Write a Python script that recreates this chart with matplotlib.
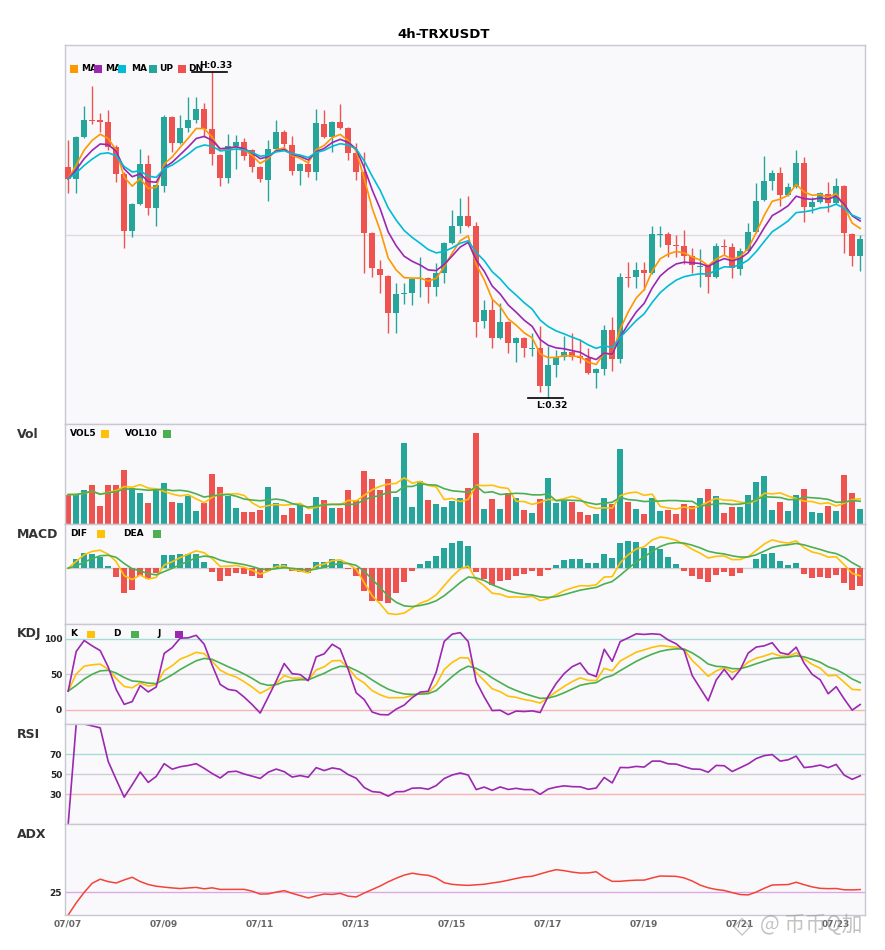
import numpy as np
import pandas as pd
import matplotlib
matplotlib.use('Agg')
import matplotlib.pyplot as plt
from matplotlib.patches import Rectangle

plt.rcParams['font.family'] = 'DejaVu Sans'

################################ data ##########################################

title = '4h-TRXUSDT'
date_labels = ['07/07', '07/09', '07/11', '07/13', '07/15', '07/17', '07/19', '07/21', '07/23']
label_step = 12  # 4h candles -> one label every two days

opens = [0.32704, 0.32668, 0.32794, 0.32845, 0.32845, 0.32839, 0.32764, 0.32683, 0.32512, 0.32593,
         0.32713, 0.32581, 0.32647, 0.32854, 0.32776, 0.32821, 0.32845, 0.32878, 0.32818, 0.32740,
         0.32671, 0.32767, 0.32779, 0.32755, 0.32704, 0.32665, 0.32758, 0.32809, 0.32770, 0.32692,
         0.32713, 0.32689, 0.32833, 0.32794, 0.32839, 0.32821, 0.32746, 0.32689, 0.32506, 0.32398,
         0.32377, 0.32266, 0.32323, 0.32326, 0.32368, 0.32371, 0.32344, 0.32386, 0.32476, 0.32527,
         0.32557, 0.32527, 0.32242, 0.32275, 0.32191, 0.32239, 0.32176, 0.32191, 0.32158, 0.32161,
         0.32047, 0.32110, 0.32134, 0.32149, 0.32137, 0.32131, 0.32086, 0.32098, 0.32215, 0.32128,
         0.32374, 0.32374, 0.32395, 0.32386, 0.32500, 0.32503, 0.32470, 0.32467, 0.32437, 0.32404,
         0.32407, 0.32374, 0.32467, 0.32464, 0.32398, 0.32452, 0.32509, 0.32605, 0.32662, 0.32686,
         0.32620, 0.32644, 0.32716, 0.32584, 0.32599, 0.32623, 0.32596, 0.32647, 0.32503, 0.32437]

highs = [0.32785, 0.32797, 0.32887, 0.32947, 0.32866, 0.32875, 0.32770, 0.32689, 0.32596, 0.32758,
         0.32740, 0.32653, 0.32860, 0.32857, 0.32860, 0.32914, 0.32914, 0.32896, 0.32989, 0.32743,
         0.32803, 0.32800, 0.32791, 0.32758, 0.32707, 0.32785, 0.32845, 0.32815, 0.32797, 0.32716,
         0.32725, 0.32878, 0.32875, 0.32842, 0.32893, 0.32824, 0.32776, 0.32749, 0.32509, 0.32425,
         0.32380, 0.32356, 0.32356, 0.32371, 0.32434, 0.32374, 0.32416, 0.32479, 0.32575, 0.32611,
         0.32617, 0.32539, 0.32305, 0.32308, 0.32296, 0.32242, 0.32194, 0.32194, 0.32206, 0.32227,
         0.32167, 0.32155, 0.32197, 0.32206, 0.32188, 0.32161, 0.32101, 0.32230, 0.32254, 0.32386,
         0.32419, 0.32419, 0.32419, 0.32527, 0.32527, 0.32509, 0.32500, 0.32515, 0.32461, 0.32458,
         0.32410, 0.32476, 0.32488, 0.32476, 0.32461, 0.32536, 0.32656, 0.32737, 0.32695, 0.32704,
         0.32656, 0.32755, 0.32734, 0.32614, 0.32629, 0.32659, 0.32671, 0.32650, 0.32506, 0.32500]

lows = [0.32626, 0.32626, 0.32791, 0.32833, 0.32809, 0.32755, 0.32659, 0.32461, 0.32494, 0.32590,
        0.32560, 0.32527, 0.32629, 0.32749, 0.32773, 0.32809, 0.32836, 0.32794, 0.32710, 0.32647,
        0.32656, 0.32698, 0.32725, 0.32689, 0.32659, 0.32602, 0.32755, 0.32764, 0.32680, 0.32650,
        0.32674, 0.32665, 0.32791, 0.32749, 0.32818, 0.32725, 0.32665, 0.32386, 0.32374, 0.32326,
        0.32206, 0.32206, 0.32293, 0.32290, 0.32314, 0.32296, 0.32317, 0.32356, 0.32473, 0.32506,
        0.32524, 0.32194, 0.32221, 0.32161, 0.32188, 0.32146, 0.32119, 0.32134, 0.32137, 0.32029,
        0.32011, 0.32074, 0.32125, 0.32125, 0.32116, 0.32083, 0.32041, 0.32080, 0.32092, 0.32116,
        0.32344, 0.32341, 0.32335, 0.32383, 0.32464, 0.32434, 0.32434, 0.32413, 0.32386, 0.32344,
        0.32326, 0.32371, 0.32440, 0.32371, 0.32380, 0.32449, 0.32506, 0.32602, 0.32635, 0.32587,
        0.32617, 0.32641, 0.32539, 0.32566, 0.32596, 0.32569, 0.32593, 0.32446, 0.32407, 0.32392]

closes = [0.32668, 0.32794, 0.32845, 0.32842, 0.32839, 0.32764, 0.32683, 0.32512, 0.32593, 0.32713,
          0.32581, 0.32650, 0.32854, 0.32776, 0.32821, 0.32845, 0.32878, 0.32818, 0.32743, 0.32671,
          0.32767, 0.32779, 0.32737, 0.32704, 0.32668, 0.32758, 0.32809, 0.32773, 0.32692, 0.32713,
          0.32689, 0.32836, 0.32794, 0.32839, 0.32821, 0.32746, 0.32689, 0.32506, 0.32401, 0.32380,
          0.32266, 0.32323, 0.32326, 0.32368, 0.32371, 0.32344, 0.32386, 0.32476, 0.32527, 0.32557,
          0.32527, 0.32239, 0.32275, 0.32191, 0.32239, 0.32176, 0.32191, 0.32161, 0.32161, 0.32047,
          0.32110, 0.32134, 0.32149, 0.32134, 0.32131, 0.32086, 0.32098, 0.32215, 0.32128, 0.32374,
          0.32371, 0.32395, 0.32386, 0.32503, 0.32503, 0.32470, 0.32467, 0.32437, 0.32410, 0.32407,
          0.32374, 0.32467, 0.32464, 0.32401, 0.32452, 0.32509, 0.32602, 0.32662, 0.32686, 0.32620,
          0.32644, 0.32716, 0.32584, 0.32599, 0.32626, 0.32596, 0.32647, 0.32506, 0.32437, 0.32488]

# volume in millions
volumes = [29.3, 29.3, 33.3, 38.3, 17.7, 38.3, 38.3, 53.3, 35.3, 30.3,
           21.3, 34.3, 40.3, 22.3, 21.3, 27.7, 13.3, 21.3, 49.3, 36.3,
           27.7, 16.3, 12.3, 12.3, 14.3, 36.3, 21.3, 9.3, 16.3, 19.3,
           10.3, 27.3, 24.3, 16.3, 16.3, 33.3, 24.3, 52.3, 44.3, 33.3,
           44.3, 27.3, 80.3, 17.3, 42.3, 24.3, 20.3, 17.3, 23.3, 26.3,
           35.3, 90.3, 15.3, 25.3, 15.3, 30.3, 26.3, 14.3, 11.3, 25.3,
           45.3, 21.3, 23.3, 22.3, 12.3, 9.3, 10.3, 26.3, 20.3, 74.3,
           22.3, 15.3, 10.3, 26.3, 13.3, 14.3, 10.3, 20.3, 18.3, 26.3,
           34.3, 28.3, 11.3, 17.3, 17.3, 29.3, 41.3, 47.3, 14.3, 22.3,
           13.3, 29.3, 34.3, 12.3, 11.3, 18.3, 13.3, 48.3, 30.3, 15.3]

################################ indicators ##########################################

df = pd.DataFrame({'open': opens, 'high': highs, 'low': lows, 'close': closes, 'vol': volumes})
n = len(df)
x = np.arange(n)
c = df['close']

# price lines (EMA 5 / 8 / 13)
ma_fast = c.ewm(span=5, adjust=False).mean()
ma_mid = c.ewm(span=8, adjust=False).mean()
ma_slow = c.ewm(span=13, adjust=False).mean()

vol5 = df['vol'].rolling(5, min_periods=1).mean()
vol10 = df['vol'].rolling(10, min_periods=1).mean()

# fast MACD (6, 13, 5)
dif = c.ewm(span=6, adjust=False).mean() - c.ewm(span=13, adjust=False).mean()
dea = dif.ewm(span=5, adjust=False).mean()
macd_hist = 2 * (dif - dea)

llv = df['low'].rolling(9, min_periods=1).min()
hhv = df['high'].rolling(9, min_periods=1).max()
rsv = ((c - llv) / (hhv - llv) * 100).fillna(50).values
k_line = np.zeros(n)
d_line = np.zeros(n)
k_line[0] = d_line[0] = rsv[0]
for i in range(1, n):
    k_line[i] = 2 / 3 * k_line[i - 1] + rsv[i] / 3
    d_line[i] = 2 / 3 * d_line[i - 1] + k_line[i] / 3
j_line = 3 * k_line - 2 * d_line

delta = c.diff().fillna(0)
gain = delta.clip(lower=0).ewm(alpha=1 / 14, adjust=False).mean()
move = delta.abs().ewm(alpha=1 / 14, adjust=False).mean()
rsi = (gain / move * 100).fillna(0)

prev_c = c.shift(1)
tr = pd.concat([df['high'] - df['low'], (df['high'] - prev_c).abs(), (df['low'] - prev_c).abs()], axis=1).max(axis=1)
up_move = (df['high'] - df['high'].shift(1)).fillna(0)
down_move = (df['low'].shift(1) - df['low']).fillna(0)
pdm = pd.Series(np.where((up_move > down_move) & (up_move > 0), up_move, 0.0))
mdm = pd.Series(np.where((down_move > up_move) & (down_move > 0), down_move, 0.0))
atr = tr.ewm(span=14, adjust=False).mean()
pdi = 100 * pdm.ewm(span=14, adjust=False).mean() / atr
mdi = 100 * mdm.ewm(span=14, adjust=False).mean() / atr
dx = (100 * (pdi - mdi).abs() / (pdi + mdi)).fillna(0)
adx = dx.ewm(span=14, adjust=False).mean()

################################ plot ##########################################

UP = '#26a69a'
DN = '#ef5350'
ORANGE = '#ff9800'
PURPLE = '#9c27b0'
CYAN = '#00bcd4'
AMBER = '#ffc107'
GREEN = '#4caf50'

W_PX, H_PX = 885, 950
fig = plt.figure(figsize=(W_PX / 100, H_PX / 100), dpi=100)


def fx(px):
    return px / W_PX


def fy(py):
    return 1 - py / H_PX


panel_px = [(45, 424), (424, 524), (524, 624), (624, 724), (724, 824), (824, 915)]
axes = []
for top, bot in panel_px:
    ax = fig.add_axes([fx(65), fy(bot), fx(800), (bot - top) / H_PX])
    ax.set_facecolor('#f9f9fc')
    for s in ax.spines.values():
        s.set_color('#c8c8d0')
        s.set_linewidth(1)
    ax.set_xlim(-0.4, n - 0.4)
    ax.set_xticks([])
    ax.tick_params(length=0, labelsize=6.5, pad=2, labelcolor='#222')
    axes.append(ax)
ax_p, ax_v, ax_m, ax_k, ax_r, ax_a = axes

colors = np.where(df['close'] >= df['open'], UP, DN)

# candles
ax_p.axhline(0.325, color='#dcdce0', lw=1, zorder=0)
ax_p.vlines(x, df['low'], df['high'], colors=colors, lw=1, zorder=2)
body = np.maximum((df['close'] - df['open']).abs(), 0.00002)
ax_p.bar(x, body, bottom=np.minimum(df['open'], df['close']), width=0.75, color=colors, zorder=3)
ax_p.plot(x, ma_fast, color=ORANGE, lw=1.2, zorder=4)
ax_p.plot(x, ma_mid, color=PURPLE, lw=1.2, zorder=4)
ax_p.plot(x, ma_slow, color=CYAN, lw=1.2, zorder=4)
ax_p.set_ylim(0.31933, 0.33070)
ax_p.set_yticks([])

ih = int(df['high'].idxmax())
il = int(df['low'].idxmin())
ax_p.plot([ih - 2.5, ih + 1.9], [highs[ih]] * 2, color='black', lw=1.2, zorder=5)
ax_p.annotate(f'H:{highs[ih]:.2f}', (ih + 0.5, highs[ih]), xytext=(0, 1.5), textcoords='offset points',
              ha='center', va='bottom', fontsize=6.5, fontweight='bold', zorder=6)
ax_p.plot([il - 2.5, il + 1.9], [lows[il]] * 2, color='black', lw=1.2, zorder=5)
ax_p.annotate(f'L:{lows[il]:.2f}', (il + 0.5, lows[il]), xytext=(0, -2), textcoords='offset points',
              ha='center', va='top', fontsize=6.5, fontweight='bold', zorder=6)

# volume
ax_v.bar(x, df['vol'], width=0.75, color=colors)
ax_v.plot(x, vol5, color=AMBER, lw=1.2)
ax_v.plot(x, vol10, color=GREEN, lw=1.2)
ax_v.set_ylim(0, df['vol'].max() * 1.1)
ax_v.set_yticks([])

# macd
ax_m.axhline(0, color='#d0d0d4', lw=1, zorder=0)
ax_m.bar(x, macd_hist, width=0.75, color=np.where(macd_hist >= 0, UP, DN))
ax_m.plot(x, dif, color=AMBER, lw=1.2)
ax_m.plot(x, dea, color=GREEN, lw=1.2)
ax_m.set_ylim(-0.00148, 0.00117)
ax_m.set_yticks([])

# kdj
for lvl, col in [(100, '#a6dcd6'), (50, '#cfcfd4'), (0, '#f5b5b5')]:
    ax_k.axhline(lvl, color=col, lw=1, zorder=0)
ax_k.plot(x, k_line, color=AMBER, lw=1.2)
ax_k.plot(x, d_line, color=GREEN, lw=1.2)
ax_k.plot(x, j_line, color=PURPLE, lw=1.2)
ax_k.set_ylim(-20, 121)
ax_k.set_yticks([0, 50, 100])

# rsi
for lvl, col in [(70, '#a6dcd6'), (50, '#cfcfd4'), (30, '#f5b5b5')]:
    ax_r.axhline(lvl, color=col, lw=1, zorder=0)
ax_r.plot(x, rsi, color=PURPLE, lw=1.2)
ax_r.set_ylim(0, 100)
ax_r.set_yticks([30, 50, 70])

# adx
ax_a.axhline(25, color='#dba9e3', lw=1, zorder=0)
ax_a.plot(x, adx, color='#f44336', lw=1.1)
ax_a.set_ylim(0, 100)
ax_a.set_yticks([25])
ax_a.set_xticks(np.arange(len(date_labels)) * label_step)
ax_a.set_xticklabels(date_labels)
ax_a.tick_params(axis='x', length=0, pad=3, labelsize=6.5, labelcolor='#666')

for ax in axes:
    for lab in ax.get_xticklabels() + ax.get_yticklabels():
        lab.set_fontweight('bold')

# titles and legends
fig.text(fx(444), fy(34), title, ha='center', va='center', fontsize=9.5, fontweight='bold')
for name, top in zip(['Vol', 'MACD', 'KDJ', 'RSI', 'ADX'], [424, 524, 624, 724, 824]):
    fig.text(fx(17), fy(top + 10), name, ha='left', va='center', fontsize=9, fontweight='bold', color='#333')


def square(px, py, color):
    fig.add_artist(Rectangle((fx(px), fy(py + 4)), fx(7.5), 7.5 / H_PX, transform=fig.transFigure,
                             facecolor=color, edgecolor='none', zorder=10))


def label(px, py, txt):
    fig.text(fx(px), fy(py), txt, ha='left', va='center', fontsize=6.5, fontweight='bold', zorder=9)


for sx, tx, col, txt in [(70, 81, ORANGE, 'MA'), (94, 105, PURPLE, 'MA'), (118, 131, CYAN, 'MA'),
                         (149, 159, UP, 'UP'), (178, 188, DN, 'DN')]:
    label(tx, 68.5, txt)
    square(sx, 68.5, col)

for sx, tx, col, txt in [(101, 70, AMBER, 'VOL5'), (163, 125, GREEN, 'VOL10')]:
    label(tx, 433.5, txt)
    square(sx, 433.5, col)

for sx, tx, col, txt in [(97, 70, AMBER, 'DIF'), (153, 123, GREEN, 'DEA')]:
    label(tx, 533.5, txt)
    square(sx, 533.5, col)

for sx, tx, col, txt in [(87, 70, AMBER, 'K'), (131, 113, GREEN, 'D'), (175, 157, PURPLE, 'J')]:
    label(tx, 634, txt)
    square(sx, 634, col)

# watermark
fig.text(fx(742), fy(926), '◇', ha='center', va='center', fontsize=17, color='#9a9a9a', alpha=0.6)
fig.text(fx(760), fy(925), '@ 币币Q加', ha='left', va='center', fontsize=15, color='#9a9a9a', alpha=0.6,
         family=['Noto Sans CJK SC', 'DejaVu Sans'])

fig.savefig('out.png', dpi=100)
